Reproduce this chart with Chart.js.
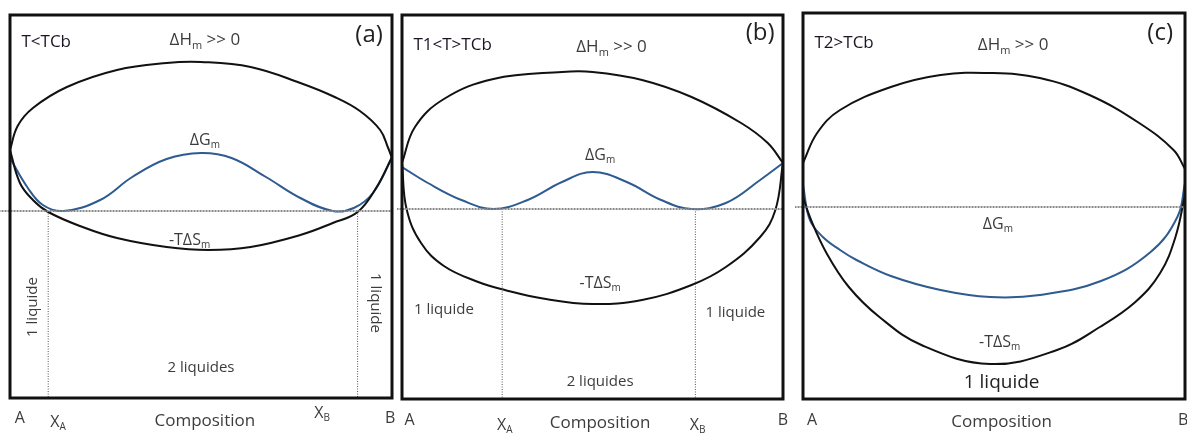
<!DOCTYPE html>
<html>
<head>
<meta charset="utf-8">
<script src="https://cdn.jsdelivr.net/npm/chart.js@4.4.1/dist/chart.umd.min.js"></script>
<style>
  body { margin: 0; background: #fff; width: 1187px; height: 437px; overflow: hidden; position: relative; }
  canvas { position: absolute; top: 0; }
</style>
</head>
<body>
<canvas id="chart-a" width="397" height="437" style="left:0px"></canvas>
<canvas id="chart-b" width="398" height="437" style="left:397px"></canvas>
<canvas id="chart-c" width="392" height="437" style="left:795px"></canvas>
<script>
// ---- panel (a) : T<TCb ----
var aHx = [0, 0.02, 0.06, 0.149, 0.28, 0.41, 0.50, 0.63, 0.76, 0.85, 0.916, 0.969, 0.99, 1.0];
var aHy = [0.61, 0.85, 1.03, 1.24, 1.41, 1.48, 1.49, 1.44, 1.28, 1.14, 1.00, 0.81, 0.63, 0.53];
var aSx = [0, 0.026, 0.06, 0.10, 0.19, 0.28, 0.41, 0.52, 0.63, 0.76, 0.845, 0.91, 0.96, 1.0];
var aSy = [0.61, 0.28, 0.11, -0.01, -0.16, -0.27, -0.36, -0.39, -0.36, -0.24, -0.12, -0.01, 0.24, 0.54];
var aGx = [0, 0.045, 0.086, 0.14, 0.236, 0.32, 0.41, 0.50, 0.58, 0.67, 0.76, 0.845, 0.90, 0.95, 1.0];
var aGy = [0.53, 0.24, 0.06, 0, 0.11, 0.34, 0.52, 0.58, 0.53, 0.34, 0.13, 0, 0.03, 0.18, 0.53];
var aLimits = [0.10, 0.91];

// ---- panel (b) : T1<T>TCb ----
var bHx = [0, 0.034, 0.11, 0.24, 0.42, 0.50, 0.63, 0.76, 0.89, 0.96, 1.0];
var bHy = [0.46, 0.82, 1.10, 1.30, 1.37, 1.37, 1.29, 1.12, 0.86, 0.66, 0.46];
var bSx = [0, 0.012, 0.05, 0.11, 0.20, 0.27, 0.37, 0.50, 0.63, 0.76, 0.85, 0.94, 0.98, 1.0];
var bSy = [0.46, 0.0, -0.34, -0.57, -0.73, -0.81, -0.895, -0.95, -0.91, -0.76, -0.58, -0.28, -0.01, 0.46];
var bGx = [0, 0.068, 0.156, 0.24, 0.33, 0.42, 0.50, 0.59, 0.68, 0.76, 0.85, 0.94, 1.0];
var bGy = [0.42, 0.26, 0.09, 0, 0.09, 0.27, 0.37, 0.27, 0.09, 0, 0.06, 0.29, 0.46];
var bLimits = [0.263, 0.77];

// ---- panel (c) : T2>TCb ----
var cHx = [0, 0.037, 0.097, 0.23, 0.36, 0.49, 0.62, 0.75, 0.88, 0.97, 1.0];
var cHy = [0.44, 0.74, 0.97, 1.20, 1.32, 1.34, 1.29, 1.12, 0.84, 0.57, 0.38];
var cSx = [0, 0.02, 0.06, 0.12, 0.20, 0.31, 0.49, 0.665, 0.777, 0.87, 0.935, 0.975, 1.0];
var cSy = [0.10, -0.12, -0.45, -0.80, -1.10, -1.38, -1.57, -1.43, -1.20, -0.95, -0.66, -0.30, 0.12];
var cGx = [0, 0.018, 0.052, 0.097, 0.14, 0.23, 0.36, 0.49, 0.62, 0.78, 0.91, 0.98, 1.0];
var cGy = [0.22, -0.13, -0.30, -0.43, -0.53, -0.69, -0.83, -0.90, -0.88, -0.74, -0.45, -0.10, 0.24];

// dashed zero line (ΔG = 0)
var zeroX = [-0.03, 0, 1, 1.03];
var zeroY = [0, 0, 0, 0];

var BLUE = '#2e5b90';
var INK = '#111111';
var TXT = '#3c3c3c';
var FONT = '"Open Sans"';

Chart.defaults.font.family = FONT;

function curve(xs, ys, color) {
  return {
    data: xs.map((x, i) => ({ x: x, y: ys[i] })),
    borderColor: color,
    borderWidth: 2,
    pointRadius: 0,
    tension: 0.4,
    fill: false
  };
}

function zeroLine(from, to) {
  return {
    data: zeroX.map((x, i) => ({ x: x < 0 ? from : (x > 1 ? to : x), y: zeroY[i] })),
    borderColor: '#8a8a8a',
    borderWidth: 2,
    borderDash: [2, 1],
    pointRadius: 0,
    clip: false
  };
}

function limitLines(xs, bottom) {
  return xs.map((x) => ({
    data: [{ x: x, y: 0 }, { x: x, y: bottom }],
    borderColor: '#555',
    borderWidth: 1,
    borderDash: [1, 1.5],
    pointRadius: 0
  }));
}

// text with subscripts: parts = [[text, isSub], ...]
function drawText(ctx, lb, px, py) {
  var size = lb.size || 16;
  var sub = Math.round(size * 0.62);
  ctx.save();
  ctx.translate(px, py);
  if (lb.rot) ctx.rotate(lb.rot);
  var widths = lb.t.map((p) => {
    ctx.font = (p[1] ? sub : size) + 'px ' + FONT;
    return ctx.measureText(p[0]).width;
  });
  var total = widths.reduce((s, w) => s + w, 0);
  var cx = lb.align === 'left' ? 0 : -total / 2;
  ctx.fillStyle = lb.color || TXT;
  ctx.textBaseline = 'middle';
  ctx.textAlign = 'left';
  lb.t.forEach((p, i) => {
    ctx.font = (p[1] ? sub : size) + 'px ' + FONT;
    ctx.fillText(p[0], cx, p[1] ? size * 0.32 : 0);
    cx += widths[i];
  });
  ctx.restore();
}

function panelPlugin(labels) {
  return {
    id: 'panel',
    afterDraw(chart) {
      var ctx = chart.ctx, a = chart.chartArea;
      var xs = chart.scales.x, ys = chart.scales.y;
      ctx.save();
      ctx.lineWidth = 3;
      ctx.strokeStyle = INK;
      ctx.strokeRect(a.left, a.top, a.right - a.left, a.bottom - a.top);
      labels.forEach((lb) => drawText(ctx, lb, xs.getPixelForValue(lb.x), ys.getPixelForValue(lb.y)));
      ctx.restore();
    }
  };
}

function makeChart(id, datasets, yMin, yMax, pad, labels) {
  return new Chart(document.getElementById(id), {
    type: 'line',
    data: { datasets: datasets },
    options: {
      responsive: false,
      animation: false,
      devicePixelRatio: 1,
      layout: { padding: pad },
      scales: {
        x: { type: 'linear', min: 0, max: 1, display: false },
        y: { type: 'linear', min: yMin, max: yMax, display: false }
      },
      plugins: { legend: { display: false }, tooltip: { enabled: false } }
    },
    plugins: [panelPlugin(labels)]
  });
}

var SUB_H = [['ΔH'], ['m', 1], [' >> 0']];
var SUB_G = [['ΔG'], ['m', 1]];
var SUB_S = [['-TΔS'], ['m', 1]];

makeChart('chart-a',
  [zeroLine(-0.03, 1.03)].concat(limitLines(aLimits, -1.87),
    [curve(aHx, aHy, INK), curve(aSx, aSy, INK), curve(aGx, aGy, BLUE)]),
  -1.87, 1.96, { left: 10, right: 5, top: 15, bottom: 39 },
  [
    { t: [['T<TCb']], x: 0.03, y: 1.69, size: 17, align: 'left', color: '#1d1424' },
    { t: SUB_H, x: 0.51, y: 1.71, size: 17 },
    { t: [['(a)']], x: 0.94, y: 1.76, size: 24, color: '#222' },
    { t: SUB_G, x: 0.51, y: 0.71, size: 16 },
    { t: SUB_S, x: 0.47, y: -0.29, size: 16 },
    { t: [['1 liquide']], x: 0.06, y: -0.96, size: 15, rot: -Math.PI / 2 },
    { t: [['1 liquide']], x: 0.955, y: -0.92, size: 15, rot: Math.PI / 2 },
    { t: [['2 liquides']], x: 0.50, y: -1.57, size: 15 },
    { t: [['A']], x: 0.026, y: -2.07, size: 16 },
    { t: [['X'], ['A', 1]], x: 0.126, y: -2.11, size: 16 },
    { t: [['Composition']], x: 0.51, y: -2.10, size: 17 },
    { t: [['X'], ['B', 1]], x: 0.817, y: -2.02, size: 16 },
    { t: [['B']], x: 0.995, y: -2.07, size: 16 }
  ]);

makeChart('chart-b',
  [zeroLine(-0.03, 1.03)].concat(limitLines(bLimits, -1.90),
    [curve(bHx, bHy, INK), curve(bSx, bSy, INK), curve(bGx, bGy, BLUE)]),
  -1.90, 1.94, { left: 5, right: 12, top: 15, bottom: 38 },
  [
    { t: [['T1<T>TCb']], x: 0.03, y: 1.64, size: 17, align: 'left', color: '#1d1424' },
    { t: SUB_H, x: 0.55, y: 1.62, size: 17 },
    { t: [['(b)']], x: 0.94, y: 1.76, size: 24, color: '#222' },
    { t: SUB_G, x: 0.52, y: 0.54, size: 16 },
    { t: SUB_S, x: 0.52, y: -0.74, size: 16 },
    { t: [['1 liquide']], x: 0.11, y: -1.01, size: 15 },
    { t: [['1 liquide']], x: 0.875, y: -1.04, size: 15 },
    { t: [['2 liquides']], x: 0.52, y: -1.73, size: 15 },
    { t: [['A']], x: 0.02, y: -2.11, size: 16 },
    { t: [['X'], ['A', 1]], x: 0.27, y: -2.16, size: 16 },
    { t: [['Composition']], x: 0.52, y: -2.14, size: 17 },
    { t: [['X'], ['B', 1]], x: 0.776, y: -2.16, size: 16 },
    { t: [['B']], x: 1.0, y: -2.11, size: 16 }
  ]);

makeChart('chart-c',
  [zeroLine(-0.03, 1.0), curve(cHx, cHy, INK), curve(cSx, cSy, INK), curve(cGx, cGy, BLUE)],
  -1.92, 1.94, { left: 8, right: 2, top: 13, bottom: 38 },
  [
    { t: [['T2>TCb']], x: 0.03, y: 1.64, size: 17, align: 'left', color: '#1d1424' },
    { t: SUB_H, x: 0.55, y: 1.62, size: 17 },
    { t: [['(c)']], x: 0.935, y: 1.74, size: 24, color: '#222' },
    { t: SUB_G, x: 0.51, y: -0.17, size: 16 },
    { t: SUB_S, x: 0.515, y: -1.35, size: 16 },
    { t: [['1 liquide']], x: 0.52, y: -1.76, size: 19, color: '#222' },
    { t: [['A']], x: 0.024, y: -2.13, size: 16 },
    { t: [['Composition']], x: 0.52, y: -2.15, size: 17 },
    { t: [['B']], x: 0.995, y: -2.13, size: 16 }
  ]);
</script>
</body>
</html>
